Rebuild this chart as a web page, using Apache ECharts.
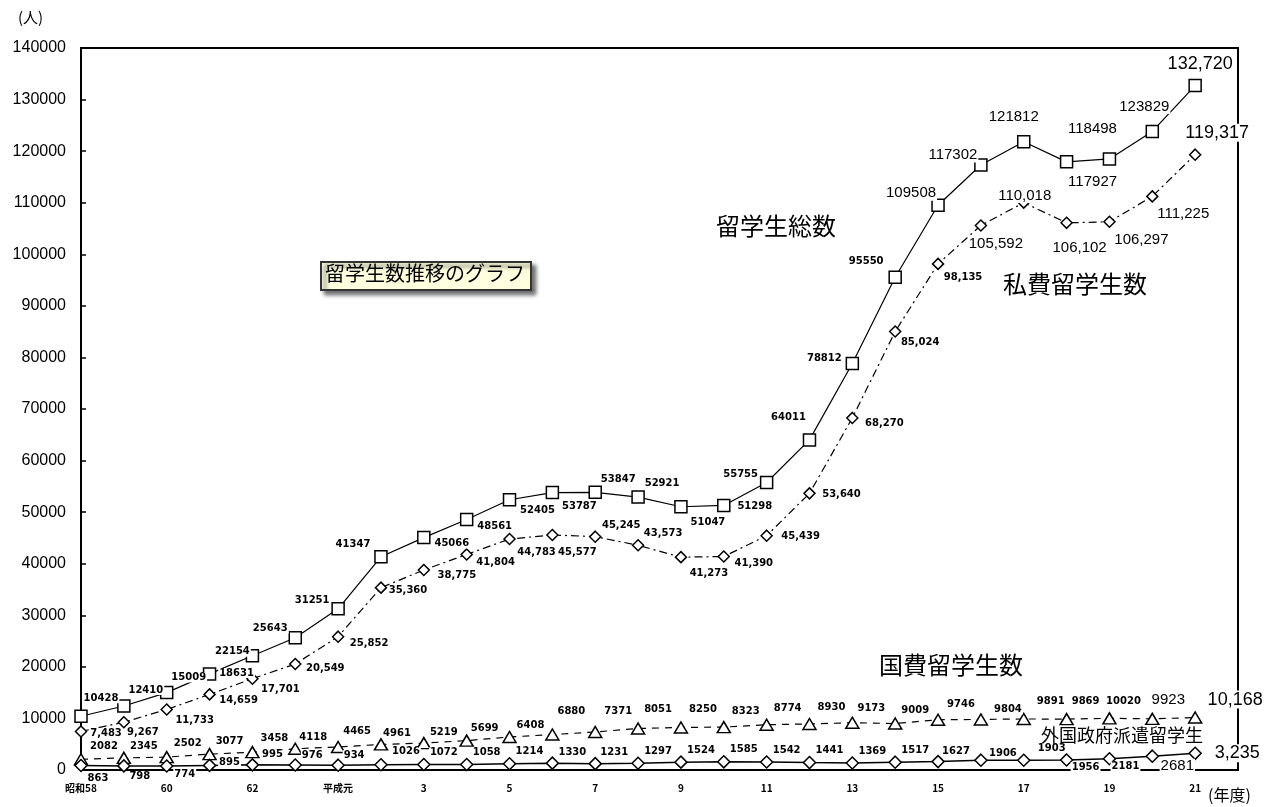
<!DOCTYPE html>
<html>
<head>
<meta charset="utf-8">
<script src="https://cdn.jsdelivr.net/npm/echarts@6/dist/echarts.min.js"></script>
<style>
html,body{margin:0;padding:0;background:#fff;}
#c{width:1273px;height:807px;}
</style>
</head>
<body>
<div id="c"></div>
<script>
// ---- data ----
const categories = ['昭和58','59','60','61','62','63','平成元','2','3','4','5','6','7','8','9','10','11','12','13','14','15','16','17','18','19','20','21'];
const totalStudents = [10428,12410,15009,18631,22154,25643,31251,41347,45066,48561,52405,53787,53847,52921,51047,51298,55755,64011,78812,95550,109508,117302,121812,117927,118498,123829,132720];
const privateStudents = [7483,9267,11733,14659,17701,20549,25852,35360,38775,41804,44783,45577,45245,43573,41273,41390,45439,53640,68270,85024,98135,105592,110018,106102,106297,111225,119317];
const governmentStudents = [2082,2345,2502,3077,3458,4118,4465,4961,5219,5699,6408,6880,7371,8051,8250,8323,8774,8930,9173,9009,9746,9804,9891,9869,10020,9923,10168];
const foreignGovStudents = [863,798,774,895,995,976,934,1026,1072,1058,1214,1330,1231,1297,1524,1585,1542,1441,1369,1517,1627,1906,1903,1956,2181,2681,3235];
const yTicks = [0,10000,20000,30000,40000,50000,60000,70000,80000,90000,100000,110000,120000,130000,140000];

// ---- label placement (style, not data) ----
const totalOff = [[20,-18],[22,-16],[22,-15],[27,-1],[-20,-4],[-25,-9],[-26,-8],[-28,-12],[28,6],[28,7],[28,11],[27,14],[23,-13],[24,-14],[27,16],[31,1],[-26,-8],[-21,-22],[-28,-5],[-29,-16],[-27,-12],[-28,-10],[-10,-25],[26,20],[-17,-30],[-8,-25],[5,-22]];
const privOff = [[25,2],[19,10],[28,11],[29,6],[28,11],[30,4],[31,7],[27,3],[33,5],[29,8],[27,13],[25,17],[26,-11],[25,-12],[28,16],[30,7],[34,1],[32,1],[32,5],[25,11],[25,14],[15,18],[1,-7],[13,25],[32,18],[31,17],[22,-22]];
const govOff = [[23,-13],[20,-12],[21,-14],[20,-13],[22,-14],[18,-11],[19,-16],[16,-11],[20,-11],[18,-12],[21,-12],[19,-23],[23,-21],[20,-19],[22,-18],[22,-16],[21,-16],[22,-17],[19,-14],[20,-13],[23,-15],[27,-10],[27,-18],[19,-18],[14,-17],[16,-19],[40,-18]];
const forOff = [[17,13],[16,11],[18,8],[20,-3],[20,-10],[17,-10],[16,-10],[25,-13],[20,-12],[20,-12],[20,-12],[20,-11],[19,-11],[20,-12],[20,-12],[20,-12],[20,-12],[20,-12],[20,-12],[20,-12],[18,-10],[22,-7],[28,-12],[19,7],[16,8],[25,10],[42,0]];

function fmt(v, comma){ return comma ? v.toLocaleString('en-US') : String(v); }

function buildData(values, offs, opts){
  return values.map((v,i)=>{
    const big = i >= opts.bigFrom;
    const last = i === values.length-1;
    const comma = opts.allComma || last;
    return {
      value: v,
      label: {
        show: true,
        position: 'inside',
        offset: offs[i],
        formatter: fmt(v, comma),
        fontFamily: big ? 'Liberation Sans' : 'DejaVu Sans',
        fontWeight: big ? 'normal' : 'bold',
        fontSize: last ? 18 : (big ? 15 : 10),
        color: '#000',
        backgroundColor: '#fff',
        padding: [0,1]
      }
    };
  });
}

const xData = categories.concat(['']);
const chart = echarts.init(document.getElementById('c'), null, {renderer:'canvas'});

const symStyle = {color:'#fff', borderColor:'#000', borderWidth:1.5};

const option = {
  animation: false,
  backgroundColor: '#fff',
  grid: {left:81, right:35, top:48, bottom:37, show:true, borderColor:'#000', borderWidth:2, backgroundColor:'#fff'},
  xAxis: {
    type:'category', data:xData, boundaryGap:false,
    axisLine:{lineStyle:{color:'#000', width:2}},
    axisTick:{show:false},
    axisLabel:{interval:1, color:'#000', fontSize:10, fontWeight:'bold', fontFamily:'Noto Sans CJK JP', margin:13},
    splitLine:{show:false}
  },
  yAxis: {
    type:'value', min:yTicks[0], max:yTicks[yTicks.length-1], interval:yTicks[1]-yTicks[0],
    axisLine:{show:true, lineStyle:{color:'#000', width:2}},
    axisTick:{show:true, inside:true, length:5, lineStyle:{color:'#000', width:1.5}},
    axisLabel:{color:'#000', fontSize:16, fontFamily:'Liberation Sans', margin:15, formatter:(v)=>String(v)},
    splitLine:{show:false}
  },
  series: [
    {
      name:'留学生総数', type:'line', z:4,
      data: buildData(totalStudents, totalOff, {bigFrom:20, allComma:false}),
      symbol:'rect', symbolSize:12, itemStyle:symStyle,
      lineStyle:{color:'#000', width:1.2, type:'solid'}
    },
    {
      name:'私費留学生数', type:'line', z:3,
      data: buildData(privateStudents, privOff, {bigFrom:21, allComma:true}),
      symbol:'diamond', symbolSize:11, itemStyle:symStyle,
      lineStyle:{color:'#000', width:1.2, type:[8,4,2,4]}
    },
    {
      name:'国費留学生数', type:'line', z:3,
      data: buildData(governmentStudents, govOff, {bigFrom:25, allComma:false}),
      symbol:'triangle', symbolSize:[13,11], itemStyle:symStyle,
      lineStyle:{color:'#000', width:1.2, type:[7,6]}
    },
    {
      name:'外国政府派遣留学生', type:'line', z:3,
      data: buildData(foreignGovStudents, forOff, {bigFrom:25, allComma:false}),
      symbol:'diamond', symbolSize:12, itemStyle:symStyle,
      lineStyle:{color:'#000', width:1.5, type:'solid'}
    }
  ],
  graphic: [
    {type:'text', left:18, top:10, style:{text:'(人)', fontSize:15, fontFamily:'Noto Sans CJK JP', fill:'#000'}},
    {type:'text', left:1208, top:787, style:{text:'(年度)', fontSize:16, fontFamily:'Noto Sans CJK JP', fill:'#000'}},
    {type:'text', left:716, top:214, z:100, style:{text:'留学生総数', fontSize:24, fontFamily:'Noto Sans CJK JP', fill:'#000'}},
    {type:'text', left:1003, top:272, z:100, style:{text:'私費留学生数', fontSize:24, fontFamily:'Noto Sans CJK JP', fill:'#000'}},
    {type:'text', left:879, top:653, z:100, style:{text:'国費留学生数', fontSize:24, fontFamily:'Noto Sans CJK JP', fill:'#000'}},
    {type:'text', left:1041, top:726, z:100, style:{text:'外国政府派遣留学生', fontSize:18, fontFamily:'Noto Sans CJK JP', fill:'#000'}},
    {type:'rect', left:320, top:261, z:100, shape:{width:210, height:28},
      style:{fill:'#ffffe0', stroke:'#333', lineWidth:2, shadowBlur:4, shadowOffsetX:4, shadowOffsetY:4, shadowColor:'rgba(0,0,0,0.55)'}},
    {type:'text', left:325, top:263, z:101, style:{text:'留学生数推移のグラフ', fontSize:20, fontFamily:'Noto Sans CJK JP', fill:'#000'}}
  ]
};
chart.setOption(option);
</script>
</body>
</html>
